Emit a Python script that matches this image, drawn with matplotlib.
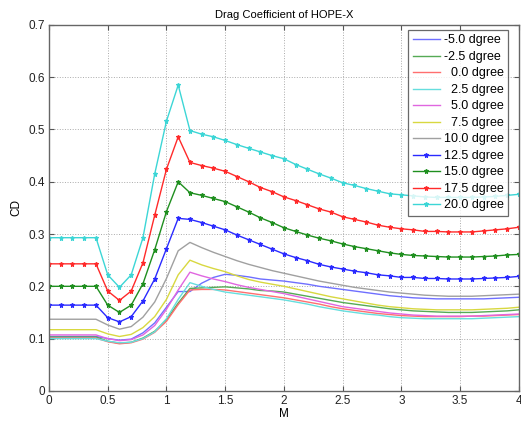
import matplotlib
matplotlib.use("Agg")
import matplotlib.pyplot as plt

plt.rcParams["font.family"] = ["Liberation Sans", "DejaVu Sans"]

# Mach numbers, 0.0 .. 4.0 step 0.1
mach = [0.0, 0.1, 0.2, 0.3, 0.4, 0.5, 0.6, 0.7, 0.8, 0.9,
        1.0, 1.1, 1.2, 1.3, 1.4, 1.5, 1.6, 1.7, 1.8, 1.9,
        2.0, 2.1, 2.2, 2.3, 2.4, 2.5, 2.6, 2.7, 2.8, 2.9,
        3.0, 3.1, 3.2, 3.3, 3.4, 3.5, 3.6, 3.7, 3.8, 3.9, 4.0]

alpha_labels = ["-5.0 dgree", "-2.5 dgree", "\u20070.0 dgree", "\u20072.5 dgree",
                "\u20075.0 dgree", "\u20077.5 dgree", "10.0 dgree", "12.5 dgree",
                "15.0 dgree", "17.5 dgree", "20.0 dgree"]

cd_m50 = [0.104, 0.104, 0.104, 0.104, 0.104, 0.100, 0.097, 0.099, 0.111, 0.130,
          0.160, 0.190, 0.190, 0.206, 0.217, 0.223, 0.221, 0.218, 0.214, 0.212,
          0.210, 0.207, 0.204, 0.200, 0.197, 0.194, 0.191, 0.188, 0.185, 0.182,
          0.180, 0.178, 0.177, 0.176, 0.176, 0.176, 0.176, 0.176, 0.177, 0.178, 0.179]
cd_m25 = [0.103, 0.103, 0.103, 0.103, 0.103, 0.095, 0.091, 0.093, 0.101, 0.114,
          0.136, 0.168, 0.196, 0.197, 0.198, 0.199, 0.197, 0.195, 0.192, 0.191,
          0.189, 0.185, 0.181, 0.177, 0.173, 0.169, 0.166, 0.163, 0.160, 0.157,
          0.155, 0.153, 0.152, 0.151, 0.150, 0.150, 0.150, 0.151, 0.152, 0.153, 0.155]
cd_00 = [0.101, 0.101, 0.101, 0.101, 0.101, 0.094, 0.090, 0.092, 0.099, 0.112,
         0.133, 0.165, 0.193, 0.194, 0.194, 0.193, 0.190, 0.187, 0.184, 0.181,
         0.178, 0.174, 0.170, 0.166, 0.161, 0.157, 0.154, 0.151, 0.148, 0.146,
         0.144, 0.143, 0.142, 0.142, 0.142, 0.142, 0.143, 0.143, 0.144, 0.145, 0.146]
cd_25 = [0.100, 0.100, 0.100, 0.100, 0.100, 0.095, 0.092, 0.093, 0.100, 0.113,
         0.138, 0.175, 0.207, 0.200, 0.194, 0.189, 0.186, 0.183, 0.180, 0.177,
         0.174, 0.170, 0.166, 0.161, 0.157, 0.153, 0.150, 0.147, 0.145, 0.142,
         0.140, 0.139, 0.138, 0.138, 0.138, 0.138, 0.138, 0.139, 0.140, 0.141, 0.142]
cd_50 = [0.107, 0.107, 0.107, 0.107, 0.107, 0.100, 0.096, 0.098, 0.107, 0.125,
         0.156, 0.193, 0.227, 0.220, 0.214, 0.209, 0.203, 0.198, 0.194, 0.190,
         0.186, 0.181, 0.176, 0.171, 0.166, 0.161, 0.158, 0.155, 0.152, 0.149,
         0.147, 0.145, 0.144, 0.143, 0.143, 0.143, 0.143, 0.144, 0.145, 0.146, 0.147]
cd_75 = [0.117, 0.117, 0.117, 0.117, 0.117, 0.109, 0.104, 0.108, 0.121, 0.142,
         0.175, 0.222, 0.250, 0.241, 0.234, 0.228, 0.220, 0.213, 0.208, 0.204,
         0.200, 0.195, 0.190, 0.185, 0.180, 0.176, 0.172, 0.168, 0.164, 0.161,
         0.159, 0.157, 0.156, 0.155, 0.155, 0.155, 0.155, 0.156, 0.157, 0.158, 0.160]
cd_100 = [0.137, 0.137, 0.137, 0.137, 0.137, 0.126, 0.118, 0.123, 0.141, 0.170,
          0.215, 0.268, 0.284, 0.274, 0.265, 0.257, 0.249, 0.242, 0.236, 0.230,
          0.225, 0.220, 0.215, 0.210, 0.206, 0.202, 0.198, 0.195, 0.192, 0.189,
          0.187, 0.185, 0.183, 0.182, 0.181, 0.181, 0.181, 0.182, 0.183, 0.184, 0.185]
cd_125 = [0.164, 0.164, 0.164, 0.164, 0.164, 0.140, 0.132, 0.142, 0.172, 0.214,
          0.272, 0.330, 0.328, 0.322, 0.315, 0.308, 0.298, 0.289, 0.280, 0.271,
          0.262, 0.255, 0.249, 0.242, 0.237, 0.233, 0.229, 0.226, 0.222, 0.220,
          0.217, 0.217, 0.215, 0.215, 0.214, 0.214, 0.214, 0.215, 0.216, 0.217, 0.219]
cd_150 = [0.200, 0.200, 0.200, 0.200, 0.200, 0.164, 0.150, 0.164, 0.205, 0.270,
          0.343, 0.400, 0.379, 0.374, 0.368, 0.362, 0.352, 0.342, 0.331, 0.322,
          0.312, 0.305, 0.298, 0.292, 0.287, 0.281, 0.276, 0.272, 0.268, 0.264,
          0.261, 0.259, 0.258, 0.257, 0.256, 0.256, 0.256, 0.257, 0.258, 0.260, 0.261]
cd_175 = [0.243, 0.243, 0.243, 0.243, 0.243, 0.191, 0.173, 0.191, 0.245, 0.336,
          0.424, 0.486, 0.437, 0.431, 0.426, 0.420, 0.410, 0.400, 0.389, 0.381,
          0.371, 0.364, 0.356, 0.348, 0.342, 0.333, 0.328, 0.323, 0.317, 0.313,
          0.310, 0.308, 0.305, 0.305, 0.304, 0.304, 0.304, 0.306, 0.308, 0.310, 0.313]
cd_200 = [0.293, 0.293, 0.293, 0.293, 0.293, 0.222, 0.198, 0.222, 0.293, 0.415,
          0.516, 0.585, 0.498, 0.491, 0.486, 0.479, 0.471, 0.464, 0.457, 0.450,
          0.444, 0.433, 0.424, 0.415, 0.407, 0.398, 0.393, 0.387, 0.382, 0.377,
          0.375, 0.373, 0.371, 0.370, 0.370, 0.370, 0.370, 0.371, 0.372, 0.374, 0.376]

series = [cd_m50, cd_m25, cd_00, cd_25, cd_50, cd_75, cd_100,
          cd_125, cd_150, cd_175, cd_200]

# matlab-ish colour order, thin lines look washed out in the original
colors = ["#6f6fff", "#55aa55", "#ff6f6f", "#66dede", "#e066e0", "#d8d840", "#a0a0a0",
          "#2a2aff", "#1f8f1f", "#ff2a2a", "#3cd6d6"]
markers = [None] * 7 + ["*"] * 4

fig = plt.figure(figsize=(5.21, 4.23), dpi=100)
ax = fig.add_axes([0.094, 0.076, 0.902, 0.865])

for y, lab, c, mk in zip(series, alpha_labels, colors, markers):
    ax.plot(mach, y, color=c, lw=1.0, marker=mk, ms=3.6, mew=0.8, label=lab)

ax.set_xlim(0, 4)
ax.set_ylim(0, 0.7)
ax.set_xticks([0, 0.5, 1, 1.5, 2, 2.5, 3, 3.5, 4])
ax.set_xticklabels(["0", "0.5", "1", "1.5", "2", "2.5", "3", "3.5", "4"])
ax.set_yticks([0, 0.1, 0.2, 0.3, 0.4, 0.5, 0.6, 0.7])
ax.set_yticklabels(["0", "0.1", "0.2", "0.3", "0.4", "0.5", "0.6", "0.7"])
ax.tick_params(direction="in", top=True, right=True, length=3.5, width=0.8,
               labelsize=8.5, colors="#555555", labelcolor="#222222", pad=3)
ax.grid(True, linestyle=":", color="#aaaaaa", lw=0.7)
for s in ax.spines.values():
    s.set_color("#666666")
    s.set_linewidth(1.0)

ax.set_title("Drag Coefficient of HOPE-X", fontsize=8, pad=5)
ax.set_xlabel("M", fontsize=8.5, labelpad=1)
ax.set_ylabel("CD", fontsize=8.5, labelpad=4)

leg = ax.legend(loc="upper right", bbox_to_anchor=(0.977, 0.986), borderaxespad=0,
                fontsize=9, frameon=True, fancybox=False, edgecolor="#444444",
                labelspacing=0.36, handlelength=2.2, handletextpad=0.3,
                borderpad=0.35, markerscale=1.0)
leg.get_frame().set_linewidth(0.9)

fig.savefig("out.png", dpi=100)
